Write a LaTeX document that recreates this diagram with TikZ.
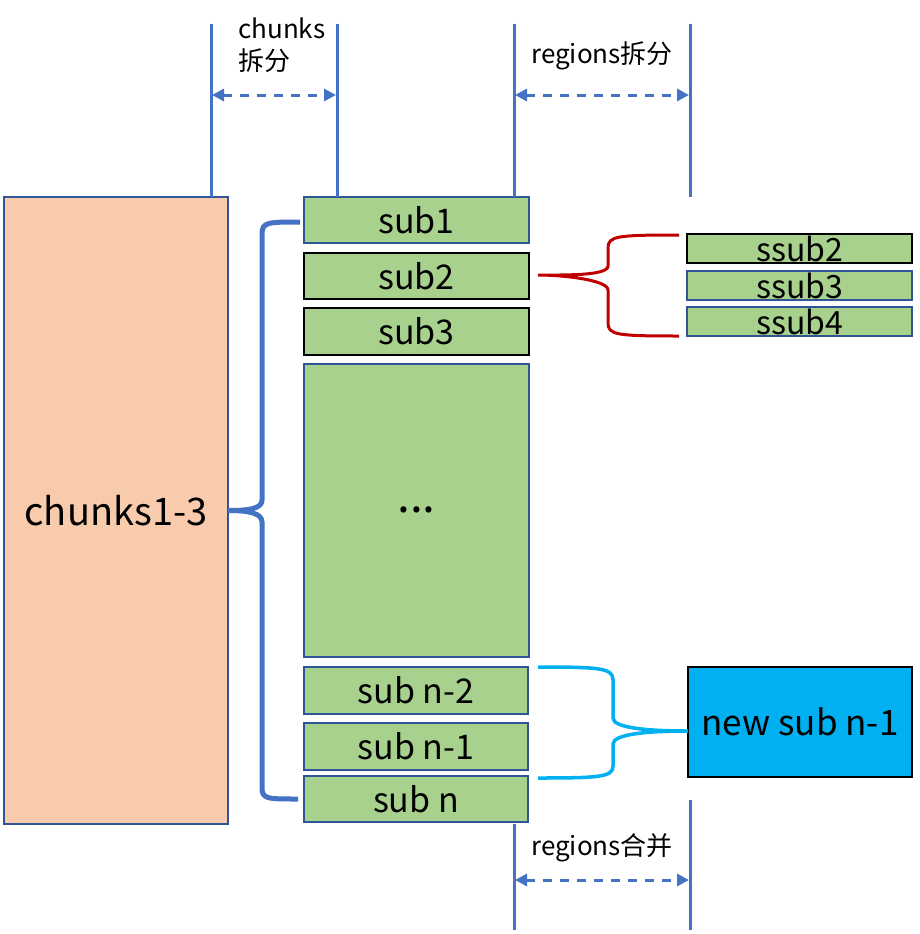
\documentclass[tikz,border=0pt]{standalone}
\usepackage{fontspec}
\setmainfont{Noto Sans CJK SC}
\usetikzlibrary{arrows.meta,calc}
\definecolor{peach}{HTML}{F8CBAD}
\definecolor{gfill}{HTML}{A9D18E}
\definecolor{lblue}{HTML}{4472C4}
\definecolor{dblue}{HTML}{2F5597}
\definecolor{dred}{HTML}{C00000}
\definecolor{cyanb}{HTML}{00B0F0}
\begin{document}
\begin{tikzpicture}[x=1pt,y=-1pt,
  box/.style={draw=dblue,line width=2pt,fill=gfill,anchor=north west,inner sep=0pt,outer sep=0pt,minimum width=225pt,font=\fontsize{34}{36}\selectfont},
  blackbox/.style={box,draw=black},
  sbox/.style={box,minimum height=29pt,font=\fontsize{32}{32}\selectfont},
  vline/.style={draw=lblue,line width=3pt},
  darr/.style={draw=lblue,line width=3pt,dash pattern=on 9pt off 8pt,{Triangle[length=12pt,width=12pt]}-{Triangle[length=12pt,width=12pt]}},
  lbl/.style={inner sep=0pt,font=\fontsize{26}{28}\selectfont},
  bluebrace/.style={draw=lblue,line width=5pt},
  redbrace/.style={draw=dred,line width=3pt},
  cyanbrace/.style={draw=cyanb,line width=3.5pt}]
\useasboundingbox (0,0) rectangle (920,934);

% main left box
\node[draw=dblue,line width=1.8pt,fill=peach,anchor=north west,inner sep=0pt,outer sep=0pt,
  minimum width=224pt,minimum height=627pt,font=\fontsize{38}{40}\selectfont] (chunks) at (4,197) {chunks1-3};

% sub boxes
\node[box,minimum height=46pt] (sub1) at (304,197) {sub1};
\node[blackbox,minimum height=46pt] (sub2) at (304,253) {sub2};
\node[blackbox,minimum height=47pt] (sub3) at (304,308) {sub3};
\node[box,minimum height=293pt,font=\fontsize{46}{46}\selectfont] (dots) at (304,364) {\raisebox{2pt}{...}};
\node[box,minimum width=224pt,minimum height=47pt] (subn2) at (304,667) {sub n-2};
\node[box,minimum width=224pt,minimum height=47pt] (subn1) at (304,723) {sub n-1};
\node[box,minimum width=224pt,minimum height=46pt] (subn) at (304,776) {sub n};

% ssub boxes
\node[sbox,draw=black] (ssub2) at (687,234) {\raisebox{-2pt}{ssub2}};
\node[sbox] (ssub3) at (687,271) {\raisebox{-2pt}{ssub3}};
\node[sbox] (ssub4) at (687,307) {\raisebox{-2pt}{ssub4}};

% new sub
\node[draw=black,line width=2.2pt,fill=cyanb,anchor=north west,inner sep=0pt,outer sep=0pt,
  minimum width=224pt,minimum height=110pt,font=\fontsize{35}{36}\selectfont] (newsub) at (688,667) {new sub n-1};

% vertical guide lines
\coordinate (t1) at (211,24); \coordinate (t1b) at (211,197);
\coordinate (t2) at (337,24); \coordinate (t2b) at (337,197);
\coordinate (t3) at (514,24); \coordinate (t3b) at (514,197);
\coordinate (t4) at (690,24); \coordinate (t4b) at (690,197);
\coordinate (b3) at (514,824); \coordinate (b3b) at (514,930);
\coordinate (b4) at (690,800); \coordinate (b4b) at (690,930);
\draw[vline] (t1) -- (t1b);
\draw[vline] (t2) -- (t2b);
\draw[vline] (t3) -- (t3b);
\draw[vline] (t4) -- (t4b);
\draw[vline] (b3) -- (b3b);
\draw[vline] (b4) -- (b4b);

% dashed arrows
\coordinate (a1) at (212,95); \coordinate (a2) at (336,95);
\coordinate (a3) at (515,95); \coordinate (a4) at (689,95);
\coordinate (a5) at (515,880); \coordinate (a6) at (689,880);
\draw[darr] (a1) -- (a2);
\draw[darr] (a3) -- (a4);
\draw[darr] (a5) -- (a6);

% labels
\node[lbl,anchor=west] (l1) at (238,28) {chunks};
\node[lbl,anchor=west] (l2) at (238,61) {拆分};
\node[lbl] (l3) at (602,56) {regions拆分};
\node[lbl] (l4) at (602,848) {regions合并};

% blue brace
\coordinate (bt) at ($(sub1.west)+(-4,2)$);
\coordinate (bb) at ($(subn.west)+(-6,0)$);
\coordinate (bs1) at (262,234);
\coordinate (bs2) at (262,500);
\coordinate (bs3) at (262,522);
\coordinate (bs4) at (262,787);
\draw[bluebrace] (bt) .. controls +(-32,0) and +(0,-12) .. (bs1) -- (bs2)
   .. controls +(0,9) and +(20,0) .. (chunks.east)
   .. controls +(20,0) and +(0,-9) .. (bs3) -- (bs4)
   .. controls +(0,12) and +(-32,0) .. (bb);

% red brace
\coordinate (rt) at ($(ssub2.north west)+(-8,1)$);
\coordinate (rb) at ($(ssub4.south west)+(-8,0)$);
\coordinate (rtip) at ($(sub2.east)+(9,-1)$);
\coordinate (rs1) at (608,248);
\coordinate (rs2) at (608,266);
\coordinate (rs3) at (608,290);
\coordinate (rs4) at (608,323);
\draw[redbrace] (rt) .. controls +(-62,0) and +(0,-12) .. (rs1) -- (rs2)
   .. controls +(0,10) and +(25,0) .. (rtip)
   .. controls +(25,0) and +(0,-10) .. (rs3) -- (rs4)
   .. controls +(0,12) and +(-62,0) .. (rb);

% cyan brace
\coordinate (ct) at ($(subn2.north east)+(10,0)$);
\coordinate (cb) at ($(subn1.south east)+(10,8)$);
\coordinate (ctip) at ($(newsub.west)+(0,9)$);
\coordinate (cs1) at (613,680);
\coordinate (cs2) at (613,718);
\coordinate (cs3) at (613,744);
\coordinate (cs4) at (613,766);
\draw[cyanbrace] (ct) .. controls +(62,0) and +(0,-12) .. (cs1) -- (cs2)
   .. controls +(0,10) and +(-40,0) .. (ctip)
   .. controls +(-40,0) and +(0,-10) .. (cs3) -- (cs4)
   .. controls +(0,11) and +(62,0) .. (cb);
\end{tikzpicture}
\end{document}
